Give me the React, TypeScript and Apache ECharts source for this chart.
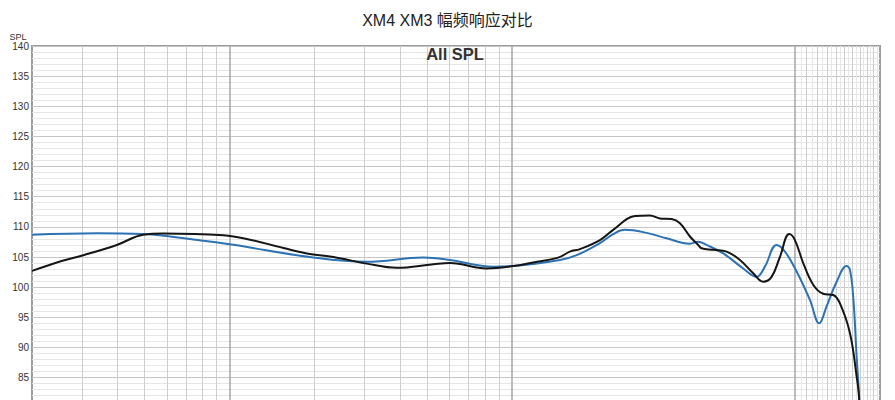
import React, { useEffect, useRef } from "react";
import * as echarts from "echarts";

// black curve
const xm4Freq = [20, 24.5, 30.4, 39.9, 49.5, 58.3, 95, 115, 155, 192, 233, 306, 390, 526, 602, 812, 1008, 1187, 1454, 1600, 1736, 2043, 2276, 2716, 3070, 3330, 3663, 3920, 4252, 4550, 4676, 5140, 5734, 6390, 7120, 7726, 8270, 8850, 9548, 10000, 10700, 11606, 12590, 13664, 14432, 15652, 16532, 16882, 17400];
const xm4Spl = [102.7, 104.1, 105.3, 107.0, 108.7, 108.9, 108.6, 108.0, 106.5, 105.5, 105.0, 103.9, 103.2, 103.8, 104.0, 103.1, 103.5, 104.1, 104.9, 105.9, 106.3, 107.8, 109.5, 111.8, 111.9, 111.4, 111.3, 110.6, 108.4, 107.0, 106.45, 106.2, 105.9, 104.5, 102.3, 100.9, 101.7, 105.0, 108.8, 107.8, 104.0, 100.4, 98.9, 98.7, 97.3, 92.4, 85.2, 81.3, 60];

// blue curve
const xm3Freq = [20, 33.9, 49.5, 61.5, 100, 192, 306, 484, 602, 857, 1008, 1475, 1690, 2043, 2276, 2504, 2989, 3516, 4252, 4550, 4870, 5576, 6564, 7320, 7832, 8614, 9220, 10140, 11300, 12190, 12946, 14048, 15238, 15652, 16080, 16532, 16882, 17400];
const xm3Spl = [108.7, 108.95, 108.8, 108.4, 107.1, 105.0, 104.2, 104.9, 104.5, 103.4, 103.5, 104.5, 105.3, 107.3, 108.8, 109.5, 109.0, 108.1, 107.2, 107.55, 107.0, 105.6, 103.1, 101.7, 103.4, 107.0, 105.9, 102.6, 97.9, 94.0, 96.8, 100.9, 103.5, 102.9, 98.4, 88.5, 81.3, 60];

const majorFreqs = [100, 1000, 10000];
const minorFreqs = [30, 40, 50, 60, 70, 80, 90, 200, 300, 400, 500, 600, 700, 800, 900, 11000, 12000, 13000, 14000, 15000, 16000, 17000, 18000, 19000];
const fineFreqs = [10500, 11500, 12500, 13500, 14500, 15500, 16500, 17500, 18500, 19500];

const FONT = "'Liberation Sans', Arial, 'Noto Sans CJK SC', sans-serif";

const App: React.FC = () => {
  const chartRef = useRef<HTMLDivElement>(null);

  useEffect(() => {
    if (!chartRef.current) return;
    const chart = echarts.init(chartRef.current, undefined, { renderer: "svg" });

    const vLines = [
      ...fineFreqs.map((f) => ({ xAxis: f, lineStyle: { color: "#e6e6e6", width: 1, type: "solid" } })),
      ...minorFreqs.map((f) => ({ xAxis: f, lineStyle: { color: "#cdcdcd", width: 1, type: "solid" } })),
      ...majorFreqs.map((f) => ({ xAxis: f, lineStyle: { color: "#a6a6a6", width: 1.5, type: "solid" } })),
    ];

    const option: echarts.EChartsOption = {
      animation: false,
      title: {
        text: "XM4 XM3 幅频响应对比",
        left: "center",
        top: 7,
        textStyle: { fontFamily: FONT, fontSize: 16, fontWeight: "normal", color: "#222" },
      },
      grid: {
        left: 32,
        top: 46,
        width: 848,
        height: 422,
        show: true,
        borderColor: "#9c9c9c",
        borderWidth: 2,
        backgroundColor: "#fff",
      },
      xAxis: {
        type: "log",
        logBase: 10,
        min: 20,
        max: 20000,
        axisLine: { show: false },
        axisTick: { show: false },
        axisLabel: { show: false },
        splitLine: { show: false },
      },
      yAxis: {
        type: "value",
        min: 70,
        max: 140,
        interval: 5,
        axisLine: { show: false },
        axisTick: { show: false },
        axisLabel: {
          fontFamily: FONT,
          fontSize: 10,
          color: "#333",
          margin: 3,
          formatter: (v: number) => (v >= 85 ? String(v) : ""),
        },
        splitLine: { lineStyle: { color: "#c6c6c6", width: 1 } },
        minorTick: { show: false, splitNumber: 5 },
        minorSplitLine: { show: true, lineStyle: { color: "#e6e6e6", width: 1 } },
      },
      graphic: [
        {
          type: "text",
          x: 455,
          y: 54,
          z: 100,
          style: {
            text: "All SPL",
            fontFamily: FONT,
            fontSize: 16.5,
            fontWeight: "bold",
            fill: "#333",
            textAlign: "center",
            textVerticalAlign: "middle",
          },
        },
        {
          type: "text",
          x: 18,
          y: 37,
          z: 100,
          style: {
            text: "SPL",
            fontFamily: FONT,
            fontSize: 9,
            fill: "#333",
            textAlign: "center",
            textVerticalAlign: "middle",
          },
        },
      ],
      series: [
        {
          name: "grid",
          type: "line",
          data: [[20, 0]],
          symbol: "none",
          silent: true,
          z: 1,
          lineStyle: { opacity: 0 },
          markLine: {
            silent: true,
            symbol: "none",
            label: { show: false },
            animation: false,
            z: 1,
            data: vLines as any,
          },
        },
        {
          name: "XM3",
          type: "line",
          data: xm3Freq.map((f, i) => [f, xm3Spl[i]]),
          smooth: 0.4,
          symbol: "none",
          z: 5,
          lineStyle: { color: "#2d72b3", width: 2 },
        },
        {
          name: "XM4",
          type: "line",
          data: xm4Freq.map((f, i) => [f, xm4Spl[i]]),
          smooth: 0.4,
          symbol: "none",
          z: 6,
          lineStyle: { color: "#151515", width: 2 },
        },
      ],
    };

    chart.setOption(option);
    return () => {
      chart.dispose();
    };
  }, []);

  return (
    <div
      style={{
        position: "fixed",
        left: 0,
        top: 0,
        width: 895,
        height: 400,
        overflow: "hidden",
        background: "#fff",
      }}
    >
      <div ref={chartRef} style={{ width: 895, height: 480 }} />
    </div>
  );
};

export default App;
